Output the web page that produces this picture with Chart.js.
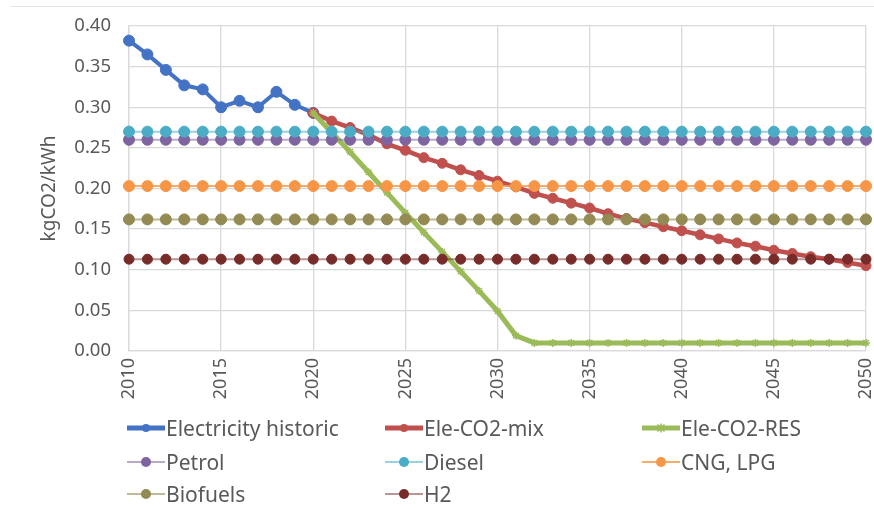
<!DOCTYPE html>
<html>
<head>
<meta charset="utf-8">
<script src="https://cdn.jsdelivr.net/npm/chart.js@4.4.1/dist/chart.umd.min.js"></script>
<style>
  html, body { margin: 0; padding: 0; background: #fff; }
  #wrap { position: relative; width: 874px; height: 509px; font-family: "Noto Sans", "DejaVu Sans", sans-serif; }
  #topline { position: absolute; left: 10px; right: 0; top: 6px; height: 1px; background: #e4e4e4; }
  #legenda { position: absolute; left: 0; top: 0; width: 874px; height: 509px; pointer-events: none; }
  .item { position: absolute; display: flex; align-items: center; font-size: 21px; color: #595959; white-space: nowrap; }
  .item svg { margin-right: 1px; }
</style>
</head>
<body>
<div id="wrap">
  <div id="topline"></div>
  <canvas id="grafico" width="874" height="509"></canvas>
  <div id="legenda"></div>
</div>
<script>
// anos
const anos = [];
for (let a = 2010; a <= 2050; a++) anos.push(a);

const eletricidadeHistorica = [0.382, 0.365, 0.346, 0.327, 0.322, 0.300, 0.308, 0.300, 0.319, 0.303, 0.293,
  null, null, null, null, null, null, null, null, null, null,
  null, null, null, null, null, null, null, null, null, null,
  null, null, null, null, null, null, null, null, null, null];

const eleMix = [null, null, null, null, null, null, null, null, null, null, 0.293,
  0.283, 0.275, 0.266, 0.255, 0.247, 0.238, 0.231, 0.223, 0.216, 0.209,
  0.202, 0.194, 0.188, 0.182, 0.176, 0.169, 0.163, 0.158, 0.153, 0.148,
  0.143, 0.138, 0.133, 0.129, 0.124, 0.120, 0.116, 0.113, 0.109, 0.105];

const eleRes = [null, null, null, null, null, null, null, null, null, null, 0.293,
  0.269, 0.245, 0.220, 0.195, 0.170, 0.146, 0.122, 0.098, 0.074, 0.049,
  0.019, 0.010, 0.010, 0.010, 0.010, 0.010, 0.010, 0.010, 0.010, 0.010,
  0.010, 0.010, 0.010, 0.010, 0.010, 0.010, 0.010, 0.010, 0.010, 0.010];

const gasolina = [0.260, 0.260, 0.260, 0.260, 0.260, 0.260, 0.260, 0.260, 0.260, 0.260, 0.260,
  0.260, 0.260, 0.260, 0.260, 0.260, 0.260, 0.260, 0.260, 0.260, 0.260,
  0.260, 0.260, 0.260, 0.260, 0.260, 0.260, 0.260, 0.260, 0.260, 0.260,
  0.260, 0.260, 0.260, 0.260, 0.260, 0.260, 0.260, 0.260, 0.260, 0.260];

const diesel = [0.270, 0.270, 0.270, 0.270, 0.270, 0.270, 0.270, 0.270, 0.270, 0.270, 0.270,
  0.270, 0.270, 0.270, 0.270, 0.270, 0.270, 0.270, 0.270, 0.270, 0.270,
  0.270, 0.270, 0.270, 0.270, 0.270, 0.270, 0.270, 0.270, 0.270, 0.270,
  0.270, 0.270, 0.270, 0.270, 0.270, 0.270, 0.270, 0.270, 0.270, 0.270];

const gnvGlp = [0.203, 0.203, 0.203, 0.203, 0.203, 0.203, 0.203, 0.203, 0.203, 0.203, 0.203,
  0.203, 0.203, 0.203, 0.203, 0.203, 0.203, 0.203, 0.203, 0.203, 0.203,
  0.203, 0.203, 0.203, 0.203, 0.203, 0.203, 0.203, 0.203, 0.203, 0.203,
  0.203, 0.203, 0.203, 0.203, 0.203, 0.203, 0.203, 0.203, 0.203, 0.203];

const biocombustiveis = [0.162, 0.162, 0.162, 0.162, 0.162, 0.162, 0.162, 0.162, 0.162, 0.162, 0.162,
  0.162, 0.162, 0.162, 0.162, 0.162, 0.162, 0.162, 0.162, 0.162, 0.162,
  0.162, 0.162, 0.162, 0.162, 0.162, 0.162, 0.162, 0.162, 0.162, 0.162,
  0.162, 0.162, 0.162, 0.162, 0.162, 0.162, 0.162, 0.162, 0.162, 0.162];

const hidrogenio = [0.113, 0.113, 0.113, 0.113, 0.113, 0.113, 0.113, 0.113, 0.113, 0.113, 0.113,
  0.113, 0.113, 0.113, 0.113, 0.113, 0.113, 0.113, 0.113, 0.113, 0.113,
  0.113, 0.113, 0.113, 0.113, 0.113, 0.113, 0.113, 0.113, 0.113, 0.113,
  0.113, 0.113, 0.113, 0.113, 0.113, 0.113, 0.113, 0.113, 0.113, 0.113];

const yTicks = [0, 0.05, 0.10, 0.15, 0.20, 0.25, 0.30, 0.35, 0.40];

// series: label, dados, cor do ponto, cor da linha, espessura, estilo, raio, ordem
const series = [
  { label: 'Electricity historic', data: eletricidadeHistorica, cor: '#4472C4', linha: '#4472C4', w: 4, estilo: 'circle', r: 5.5, ordem: 8 },
  { label: 'Ele-CO2-mix', data: eleMix, cor: '#C0504D', linha: '#C0504D', w: 4.5, estilo: 'circle', r: 5, ordem: 7 },
  { label: 'Ele-CO2-RES', data: eleRes, cor: '#9BBB59', linha: '#9BBB59', w: 5, estilo: 'star', r: 4, ordem: 6 },
  { label: 'Petrol', data: gasolina, cor: '#8064A2', linha: 'rgba(128,100,162,0.55)', w: 2, estilo: 'circle', r: 5.5, ordem: 5 },
  { label: 'Diesel', data: diesel, cor: '#4BACC6', linha: 'rgba(75,172,198,0.55)', w: 2, estilo: 'circle', r: 5.5, ordem: 4 },
  { label: 'CNG, LPG', data: gnvGlp, cor: '#F79646', linha: 'rgba(247,150,70,0.8)', w: 2, estilo: 'circle', r: 5.5, ordem: 3 },
  { label: 'Biofuels', data: biocombustiveis, cor: '#948A54', linha: 'rgba(148,138,84,0.6)', w: 2, estilo: 'circle', r: 5.5, ordem: 2 },
  { label: 'H2', data: hidrogenio, cor: '#772C2A', linha: 'rgba(119,44,42,0.5)', w: 2, estilo: 'circle', r: 5, ordem: 1 }
];

const fonte = '"Noto Sans", sans-serif';

const ctx = document.getElementById('grafico').getContext('2d');
const grafico = new Chart(ctx, {
  type: 'line',
  data: {
    labels: anos,
    datasets: series.map(s => ({
      label: s.label,
      data: s.data,
      borderColor: s.linha,
      backgroundColor: s.cor,
      pointBackgroundColor: s.cor,
      pointBorderColor: s.cor,
      pointBorderWidth: s.estilo === 'star' ? 1.5 : 1,
      pointStyle: s.estilo,
      pointRadius: s.r,
      borderWidth: s.w,
      tension: 0,
      spanGaps: false,
      order: s.ordem
    }))
  },
  options: {
    responsive: false,
    animation: false,
    layout: { padding: { top: 26, right: 8, left: 0, bottom: 0 } },
    plugins: { legend: { display: false }, tooltip: { enabled: false } },
    scales: {
      x: {
        offset: false,
        grid: {
          color: c => (c.index % 5 === 0 ? '#d9d9d9' : 'rgba(0,0,0,0)'),
          drawTicks: false,
          lineWidth: 1.3
        },
        border: { color: '#d9d9d9', width: 1.3 },
        ticks: {
          autoSkip: false,
          minRotation: 90,
          maxRotation: 90,
          padding: 7,
          color: '#595959',
          font: { size: 18, family: fonte },
          callback: function (v, i) { return anos[i] % 5 === 0 ? String(anos[i]) : ''; }
        },
        afterFit: scale => {
          scale.height = 158;
          scale.paddingLeft = 0;
          scale.paddingRight = 0;
        }
      },
      y: {
        min: 0,
        max: 0.4,
        afterBuildTicks: scale => { scale.ticks = yTicks.map(v => ({ value: v })); },
        grid: { color: '#d9d9d9', drawTicks: false, lineWidth: 1.3 },
        border: { color: '#d9d9d9', width: 1.3 },
        ticks: {
          padding: 18,
          color: '#595959',
          font: { size: 18.5, family: fonte },
          callback: v => v.toFixed(2)
        },
        title: {
          display: true,
          text: 'kgCO2/kWh',
          color: '#595959',
          font: { size: 19, family: fonte },
          padding: { top: 38, bottom: 0 }
        },
        afterFit: scale => {
          scale.width = 129;
          scale.paddingTop = 0;
          scale.paddingBottom = 0;
        }
      }
    }
  }
});

// legenda em 3 colunas, como no Excel
const colunas = [127, 385, 642];
const linhas = [428, 462, 494];
const legenda = document.getElementById('legenda');
series.forEach((s, i) => {
  const div = document.createElement('div');
  div.className = 'item';
  div.style.left = colunas[i % 3] + 'px';
  div.style.top = (linhas[Math.floor(i / 3)] - 15) + 'px';
  const grossa = s.w >= 4;
  let marca;
  if (s.estilo === 'star') {
    marca = `<path d="M15.5 11.5 L22.5 18.5 M22.5 11.5 L15.5 18.5 M19 10.5 L19 19.5" stroke="${s.cor}" stroke-width="1.5"/>`;
  } else {
    marca = `<circle cx="19" cy="15" r="${grossa ? 4 : 5}" fill="${s.cor}"/>`;
  }
  div.innerHTML = `<svg width="38" height="30"><line x1="0" y1="15" x2="38" y2="15" stroke="${s.linha}" stroke-width="${grossa ? 5 : 2}"/>${marca}</svg><span>${s.label}</span>`;
  legenda.appendChild(div);
});
</script>
</body>
</html>
